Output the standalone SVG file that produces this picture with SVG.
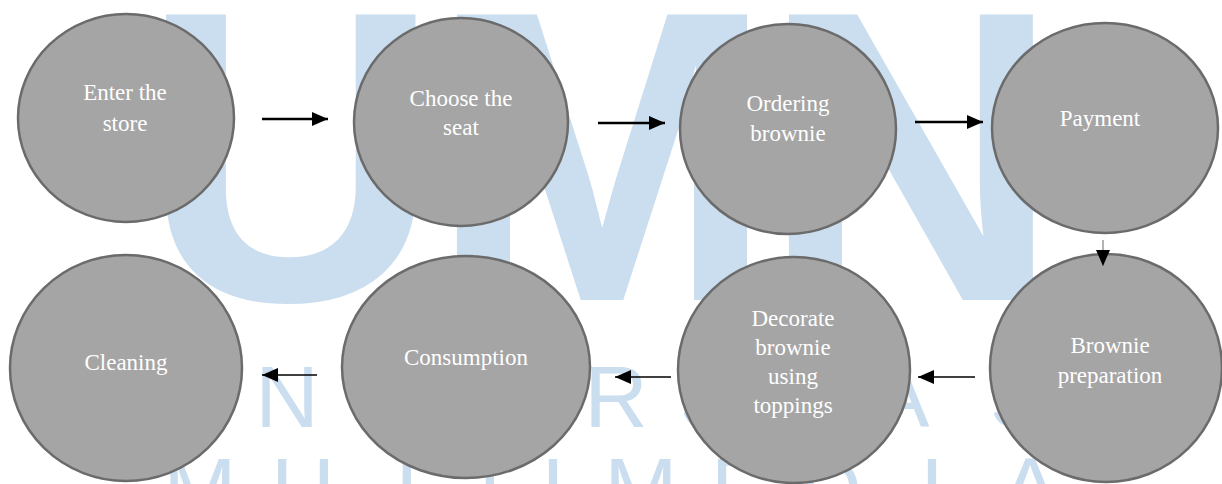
<svg xmlns="http://www.w3.org/2000/svg" width="1222" height="484" viewBox="0 0 1222 484">
<style>
.wm{fill:#cbdeef;font-family:"Liberation Sans",Arial,sans-serif;}
.big{font-size:415px;font-weight:bold;text-anchor:middle;}
.small{font-size:88px;text-anchor:middle;}
.node ellipse{fill:#a5a5a5;stroke:#6b6b6b;stroke-width:2.5;}
.node text{fill:#ffffff;font-family:"Liberation Serif","Times New Roman",serif;font-size:23px;text-anchor:middle;}
.c1{stroke:#000;stroke-width:2.5;fill:none;}
.c2{stroke:#000;stroke-width:1.5;fill:none;}
</style>
<defs>
<marker id="ah" markerUnits="userSpaceOnUse" markerWidth="16" markerHeight="14" refX="16" refY="7" orient="auto">
<path d="M0,0 L16,7 L0,14 Z" fill="#000"/>
</marker>
</defs>
<rect width="1222" height="484" fill="#ffffff"/>
<g id="watermark">
<text class="wm big" x="291" y="300">U</text>
<text class="wm big" x="602" y="300">M</text>
<text class="wm big" x="911" y="300">N</text>
<text class="wm small" x="180 287 370 450 535 616 709 770 835 900 1019" y="427">UNIVERSITAS</text>
<text class="wm small" x="200 303 420 490 553 641 740 830 932 1030" y="519">MULTIMEDIA</text>
</g>
<g id="n1" class="node"><ellipse cx="126" cy="118" rx="108" ry="104"/><text x="125" y="100">Enter the</text><text x="125" y="131">store</text></g>
<g id="n2" class="node"><ellipse cx="461" cy="122" rx="107" ry="104"/><text x="461" y="106">Choose the</text><text x="461" y="135">seat</text></g>
<g id="n3" class="node"><ellipse cx="788" cy="129" rx="108" ry="105"/><text x="788" y="111">Ordering</text><text x="788" y="141">brownie</text></g>
<g id="n4" class="node"><ellipse cx="1105" cy="128" rx="113" ry="105"/><text x="1100" y="126">Payment</text></g>
<g id="n5" class="node"><ellipse cx="1106" cy="368" rx="116" ry="114"/><text x="1110" y="353">Brownie</text><text x="1110" y="383">preparation</text></g>
<g id="n6" class="node"><ellipse cx="794" cy="370" rx="116" ry="113"/><text x="793" y="326">Decorate</text><text x="793" y="355">brownie</text><text x="793" y="384">using</text><text x="793" y="413">toppings</text></g>
<g id="n7" class="node"><ellipse cx="466" cy="367" rx="124" ry="111"/><text x="466" y="365">Consumption</text></g>
<g id="n8" class="node"><ellipse cx="126" cy="368" rx="116" ry="113"/><text x="126" y="370">Cleaning</text></g>
<g id="connectors">
<line class="c1" x1="262" y1="119" x2="328" y2="119" marker-end="url(#ah)"/>
<line class="c1" x1="598" y1="123" x2="665" y2="123" marker-end="url(#ah)"/>
<line class="c1" x1="915" y1="122" x2="983" y2="122" marker-end="url(#ah)"/>
<line stroke="#808080" stroke-width="1.2" x1="1103" y1="240" x2="1103" y2="266" marker-end="url(#ah)"/>
<line class="c2" x1="975" y1="377" x2="918" y2="377" marker-end="url(#ah)"/>
<line class="c2" x1="671" y1="377" x2="615" y2="377" marker-end="url(#ah)"/>
<line class="c2" x1="317" y1="375" x2="262" y2="375" marker-end="url(#ah)"/>
</g>
</svg>
